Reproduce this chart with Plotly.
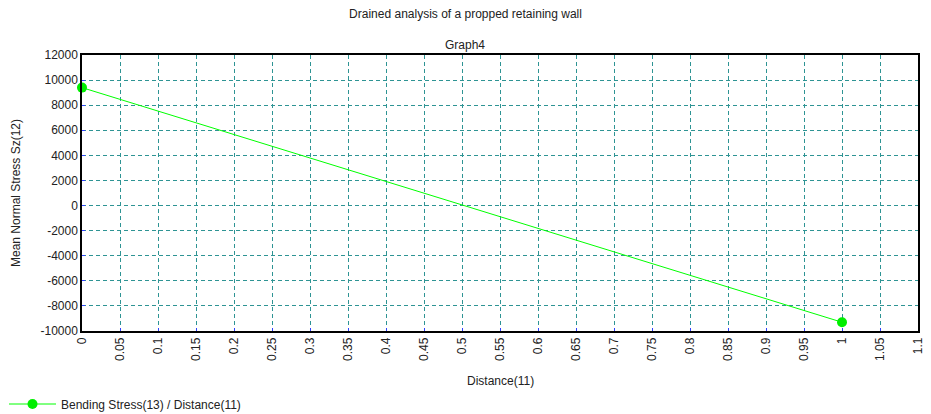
import plotly.graph_objects as go

distance = [0.0, 1.0]
bending_stress = [9400, -9300]
x_ticks = [0, 0.05, 0.1, 0.15, 0.2, 0.25, 0.3, 0.35, 0.4, 0.45, 0.5, 0.55, 0.6, 0.65,
           0.7, 0.75, 0.8, 0.85, 0.9, 0.95, 1, 1.05, 1.1]
x_tick_text = ["0", "0.05", "0.1", "0.15", "0.2", "0.25", "0.3", "0.35", "0.4", "0.45", "0.5",
               "0.55", "0.6", "0.65", "0.7", "0.75", "0.8", "0.85", "0.9", "0.95", "1", "1.05", "1.1"]
y_ticks = [-10000, -8000, -6000, -4000, -2000, 0, 2000, 4000, 6000, 8000, 10000, 12000]
y_tick_text = ["-10000", "-8000", "-6000", "-4000", "-2000", "0", "2000", "4000", "6000",
               "8000", "10000", "12000"]

FONT = "Liberation Sans, Arial, sans-serif"
grid_col = "#2e9494"

W, H = 931, 414
L, R, T, B = 82, 918, 55, 331


def px_x(px):
    return (px - L) / (R - L)


def px_y(py):
    return (B - py) / (B - T)


fig = go.Figure()
fig.add_trace(go.Scatter(
    x=distance, y=bending_stress, mode="lines+markers",
    name="Bending Stress(13) / Distance(11)",
    line=dict(color="#00ff00", width=1),
    marker=dict(color="#00ee00", size=10, symbol="circle"),
    cliponaxis=False,
))

fig.update_layout(
    width=W, height=H,
    margin=dict(l=L, r=W - R, t=T, b=H - B, autoexpand=False),
    paper_bgcolor="white", plot_bgcolor="white",
    font=dict(family=FONT, size=12, color="#222222"),
    title=dict(text="Drained analysis of a propped retaining wall", x=0.5, xref="container",
               y=1 - 14 / H, yref="container", yanchor="middle", xanchor="center",
               font=dict(size=12, color="#222222")),
    showlegend=True,
    legend=dict(xref="paper", yref="paper", x=px_x(4), y=px_y(404),
                xanchor="left", yanchor="middle", bgcolor="rgba(0,0,0,0)",
                itemwidth=47, font=dict(size=12)),
    xaxis=dict(range=[0, 1.1], tickmode="array", tickvals=x_ticks, ticktext=x_tick_text,
               tickangle=-90, showgrid=True, gridcolor=grid_col, griddash="4px,3px", gridwidth=1,
               showline=True, linecolor="black", linewidth=1.5, mirror=True,
               ticks="inside", ticklen=3, tickcolor="#3040ff", zeroline=False,
               automargin=False, tickfont=dict(size=12, color="#222222")),
    yaxis=dict(range=[-10000, 12000], tickmode="array", tickvals=y_ticks, ticktext=y_tick_text,
               showgrid=True, gridcolor=grid_col, griddash="4px,3px", gridwidth=1,
               showline=True, linecolor="black", linewidth=1.5, mirror=True,
               ticks="inside", ticklen=3, tickcolor="#3040ff", zeroline=False,
               automargin=False, tickfont=dict(size=12, color="#222222")),
    annotations=[
        dict(text="Graph4", xref="paper", yref="paper", x=px_x(465), y=px_y(45),
             showarrow=False, xanchor="center", yanchor="middle", font=dict(size=12)),
        dict(text="Distance(11)", xref="paper", yref="paper", x=px_x(500), y=px_y(381),
             showarrow=False, xanchor="center", yanchor="middle", font=dict(size=12)),
        dict(text="Mean Normal Stress Sz(12)", xref="paper", yref="paper", x=px_x(16),
             y=px_y(193), showarrow=False, xanchor="center", yanchor="middle", textangle=-90,
             font=dict(size=12)),
    ],
)

fig.write_html("out.html", config={"displayModeBar": False},
               post_script="document.body.style.margin='0';document.body.style.padding='0';")
